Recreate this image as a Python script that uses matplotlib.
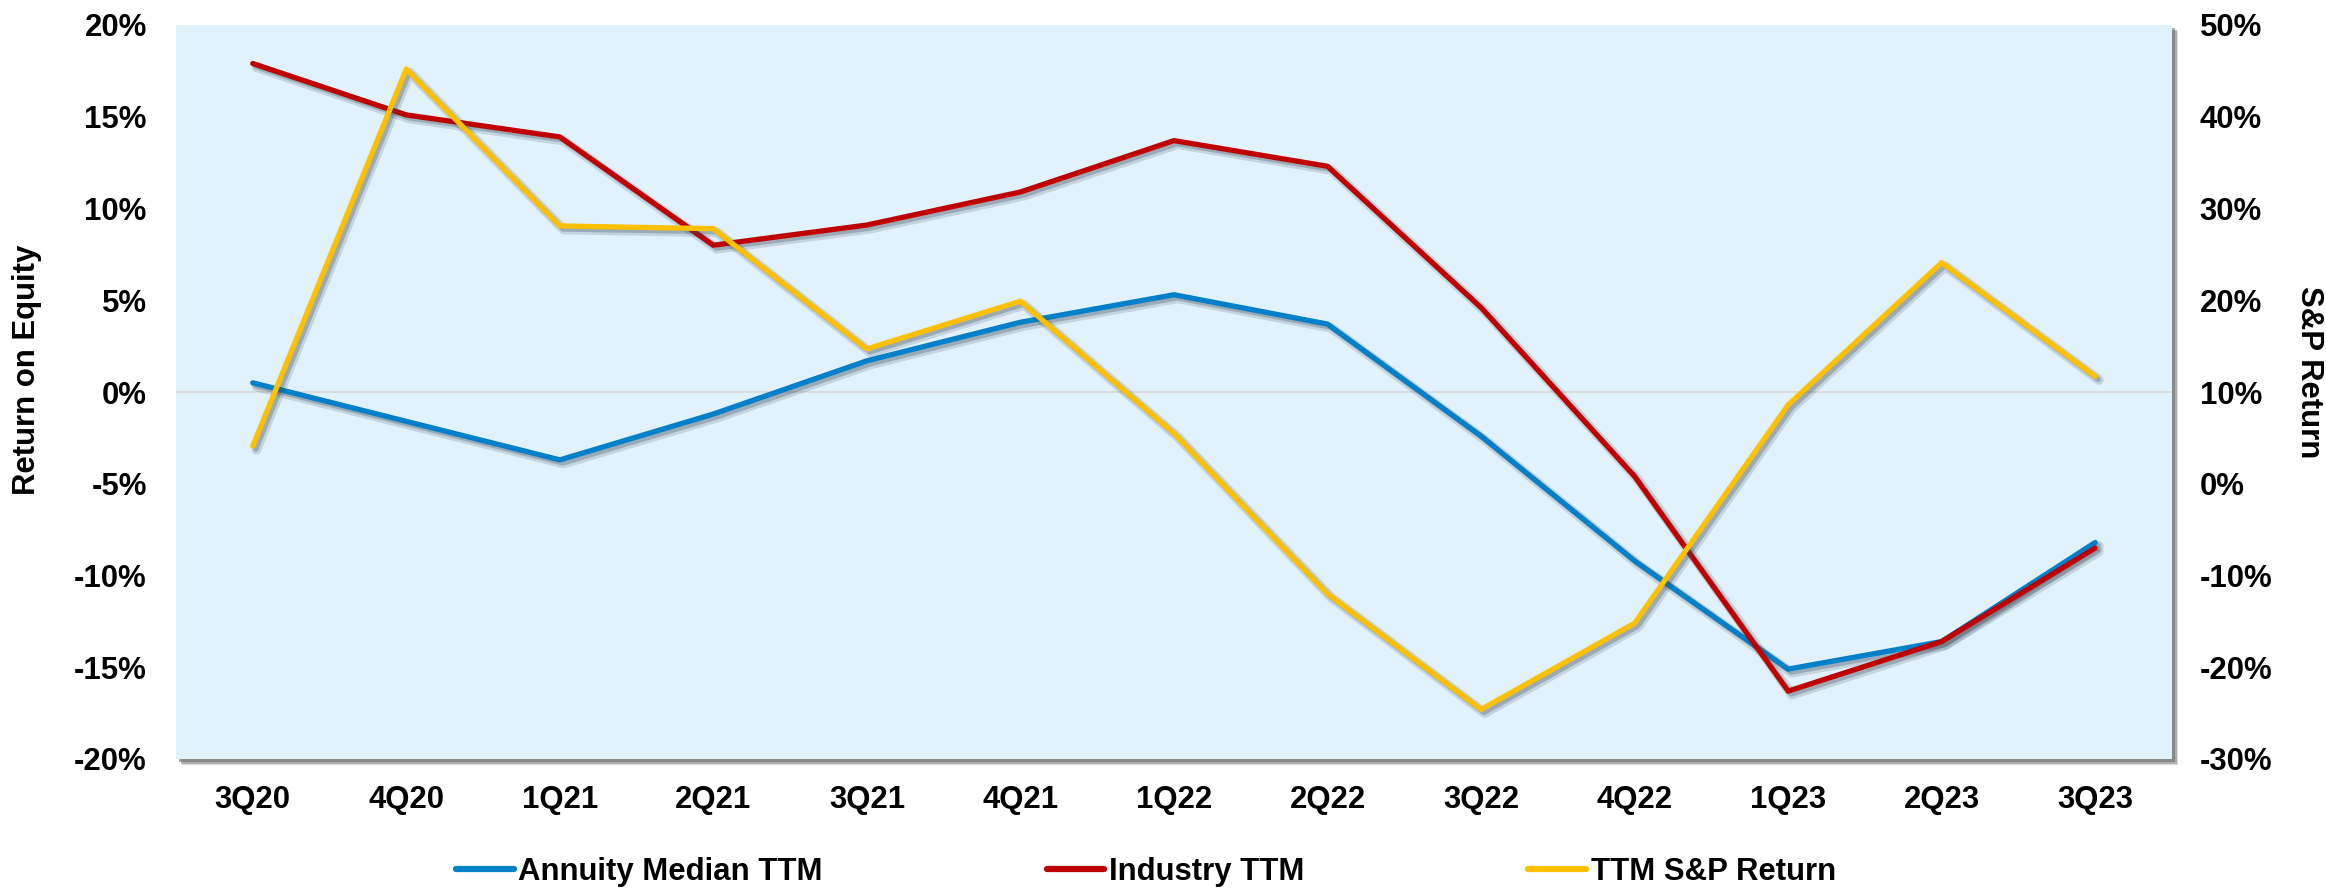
import numpy as np
import matplotlib
matplotlib.use("Agg")
import matplotlib.pyplot as plt
from matplotlib import patheffects as pe
from matplotlib.ticker import FuncFormatter, MultipleLocator

# Quarterly data
quarters = ["3Q20", "4Q20", "1Q21", "2Q21", "3Q21", "4Q21", "1Q22",
            "2Q22", "3Q22", "4Q22", "1Q23", "2Q23", "3Q23"]
annuity_median_ttm = [0.5, -1.6, -3.7, -1.2, 1.7, 3.8, 5.3, 3.7, -2.4, -9.2, -15.1, -13.6, -8.2]
industry_ttm = [17.9, 15.1, 13.9, 8.0, 9.1, 10.9, 13.7, 12.3, 4.6, -4.6, -16.3, -13.6, -8.5]
sp_return_ttm = [4.1, 45.2, 28.1, 27.8, 14.7, 19.9, 5.5, -12.0, -24.6, -15.2, 8.6, 24.1, 11.7]

plt.rcParams["font.family"] = ["Liberation Sans", "DejaVu Sans"]
plt.rcParams["font.weight"] = "bold"
FS = 22.4

BLUE = "#0080C8"
RED = "#C00000"
GOLD = "#FFC000"
BG = "#E1F2FD"

W, H = 2326, 891
fig = plt.figure(figsize=(W / 100, H / 100), dpi=100)
fig.patch.set_facecolor("white")

left, right, top, bottom = 176, 2172, 25, 759
ax = fig.add_axes([left / W, 1 - bottom / H, (right - left) / W, (bottom - top) / H])
ax.set_facecolor(BG)
# soft drop shadow under the plot area (stacked offsets fake a blur)
ax.patch.set_path_effects([
    pe.SimplePatchShadow(offset=(4.5, -4.5), shadow_rgbFace="#a0a0a0", alpha=0.35),
    pe.SimplePatchShadow(offset=(3.5, -3.5), shadow_rgbFace="#808080", alpha=0.5),
    pe.SimplePatchShadow(offset=(2.5, -2.5), shadow_rgbFace="#707070", alpha=0.6),
    pe.Normal(),
])
for s in ax.spines.values():
    s.set_visible(False)

x = np.arange(len(quarters))
line_fx = [
    pe.SimpleLineShadow(offset=(2.6, -2.6), shadow_color="#3c4c5c", alpha=0.18, linewidth=7),
    pe.SimpleLineShadow(offset=(2.2, -2.2), shadow_color="#3c4c5c", alpha=0.3),
    pe.Normal(),
]

ax.axhline(0, color="#d9d9d9", lw=1.3, zorder=1)
l1, = ax.plot(x, annuity_median_ttm, color=BLUE, lw=3.8, solid_capstyle="round",
              solid_joinstyle="round", path_effects=line_fx, zorder=3,
              label="Annuity Median TTM")
l2, = ax.plot(x, industry_ttm, color=RED, lw=3.8, solid_capstyle="round",
              solid_joinstyle="round", path_effects=line_fx, zorder=4,
              label="Industry TTM")

ax.set_xlim(-0.5, len(quarters) - 0.5)
ax.set_ylim(-20, 20)
ax.yaxis.set_major_locator(MultipleLocator(5))
ax.yaxis.set_major_formatter(FuncFormatter(lambda v, p: f"{v:.0f}%"))
ax.set_xticks(x)
ax.set_xticklabels(quarters)
ax.tick_params(axis="both", length=0, labelsize=FS)
ax.tick_params(axis="y", pad=21)
ax.tick_params(axis="x", pad=19)

ax2 = ax.twinx()
ax2.patch.set_visible(False)
for s in ax2.spines.values():
    s.set_visible(False)
l3, = ax2.plot(x, sp_return_ttm, color=GOLD, lw=3.8, solid_capstyle="round",
               solid_joinstyle="round", path_effects=line_fx, zorder=3,
               label="TTM S&P Return")
ax2.set_ylim(-30, 50)
ax2.yaxis.set_major_locator(MultipleLocator(10))
ax2.yaxis.set_major_formatter(FuncFormatter(lambda v, p: f"{v:.0f}%"))
ax2.tick_params(axis="y", length=0, labelsize=FS, pad=20)

for lab in ax.get_xticklabels() + ax.get_yticklabels() + ax2.get_yticklabels():
    lab.set_fontweight("bold")

fig.text(27 / W, 1 - 370 / H, "Return on Equity", rotation=90, ha="center",
         va="center", fontsize=FS, fontweight="bold")
fig.text(2309 / W, 1 - 372 / H, "S&P Return", rotation=270, ha="center",
         va="center", fontsize=FS, fontweight="bold")

leg = fig.legend(handles=[l1, l2, l3], loc="center", ncol=3, frameon=False,
                 bbox_to_anchor=(1146 / W, 1 - 872 / H), fontsize=FS,
                 handlelength=1.85, handletextpad=0.15, columnspacing=7.2)
for h in leg.legend_handles:
    h.set_path_effects([])
    h.set_linewidth(4.5)
for t in leg.get_texts():
    t.set_fontweight("bold")

fig.savefig("out.png", dpi=100, facecolor="white")
